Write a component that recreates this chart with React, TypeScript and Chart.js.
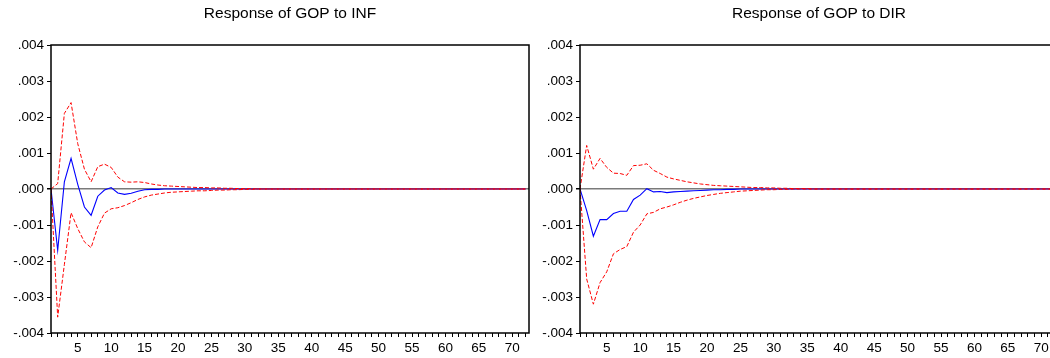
import React, { useEffect, useRef } from "react";
import { Chart, registerables } from "chart.js";

Chart.register(...registerables);

const PERIODS = [
  1, 2, 3, 4, 5, 6, 7, 8, 9, 10, 11, 12,
  13, 14, 15, 16, 17, 18, 19, 20, 21, 22, 23, 24,
  25, 26, 27, 28, 29, 30, 31, 32, 33, 34, 35, 36,
  37, 38, 39, 40, 41, 42, 43, 44, 45, 46, 47, 48,
  49, 50, 51, 52, 53, 54, 55, 56, 57, 58, 59, 60,
  61, 62, 63, 64, 65, 66, 67, 68, 69, 70, 71, 72,
];

const INF_RESP = [
  0, -0.0017, 0.0002, 0.00085, 0.00013, -0.0005, -0.00073, -0.0002, -0.00003, 0.00004, -0.00011, -0.00015,
  -0.00012, -0.00006, -0.00002, -0.00001, -0.00001, 0, 0, 0, 0, 0, 0, 0,
  0, 0, 0, 0, 0, 0, 0, 0, 0, 0, 0, 0,
  0, 0, 0, 0, 0, 0, 0, 0, 0, 0, 0, 0,
  0, 0, 0, 0, 0, 0, 0, 0, 0, 0, 0, 0,
  0, 0, 0, 0, 0, 0, 0, 0, 0, 0, 0, 0,
];
const INF_UP = [
  0, 0.00015, 0.0021, 0.0024, 0.00126, 0.00055, 0.0002, 0.00062, 0.00069, 0.0006, 0.00033, 0.0002,
  0.00019, 0.0002, 0.00018, 0.00014, 0.00011, 0.00009, 0.00008, 0.00007, 0.00006, 0.00005, 0.00004, 0.00004,
  0.00003, 0.00003, 0.00002, 0.00002, 0.00001, 0.00001, 0.00001, 0, 0, 0, 0, 0,
  0, 0, 0, 0, 0, 0, 0, 0, 0, 0, 0, 0,
  0, 0, 0, 0, 0, 0, 0, 0, 0, 0, 0, 0,
  0, 0, 0, 0, 0, 0, 0, 0, 0, 0, 0, 0,
];
const INF_LO = [
  0, -0.00356, -0.0021, -0.00066, -0.0011, -0.00147, -0.00163, -0.00105, -0.00067, -0.00055, -0.00052, -0.00046,
  -0.00038, -0.00029, -0.00022, -0.00017, -0.00014, -0.00011, -0.00009, -0.00008, -0.00007, -0.00006, -0.00005, -0.00005,
  -0.00004, -0.00003, -0.00003, -0.00002, -0.00002, -0.00001, -0.00001, 0, 0, 0, 0, 0,
  0, 0, 0, 0, 0, 0, 0, 0, 0, 0, 0, 0,
  0, 0, 0, 0, 0, 0, 0, 0, 0, 0, 0, 0,
  0, 0, 0, 0, 0, 0, 0, 0, 0, 0, 0, 0,
];

const DIR_RESP = [
  0, -0.0006, -0.00131, -0.00085, -0.00085, -0.00068, -0.00062, -0.00062, -0.00029, -0.00017, 0.00001, -0.00008,
  -0.00007, -0.0001, -0.00008, -0.00007, -0.00006, -0.00005, -0.00004, -0.00003, -0.00002, -0.00002, -0.00001, -0.00001,
  0, 0, 0, 0, 0, 0, 0, 0, 0, 0, 0, 0,
  0, 0, 0, 0, 0, 0, 0, 0, 0, 0, 0, 0,
  0, 0, 0, 0, 0, 0, 0, 0, 0, 0, 0, 0,
  0, 0, 0, 0, 0, 0, 0, 0, 0, 0, 0, 0,
];
const DIR_UP = [
  0, 0.00121, 0.00055, 0.00085, 0.0006, 0.00044, 0.00043, 0.00038, 0.00065, 0.00066, 0.0007, 0.00052,
  0.00043, 0.00033, 0.00028, 0.00024, 0.0002, 0.00017, 0.00014, 0.00012, 0.0001, 0.00009, 0.00008, 0.00007,
  0.00006, 0.00005, 0.00004, 0.00004, 0.00003, 0.00003, 0.00002, 0.00002, 0.00001, 0.00001, 0.00001, 0,
  0, 0, 0, 0, 0, 0, 0, 0, 0, 0, 0, 0,
  0, 0, 0, 0, 0, 0, 0, 0, 0, 0, 0, 0,
  0, 0, 0, 0, 0, 0, 0, 0, 0, 0, 0, 0,
];
const DIR_LO = [
  0, -0.0025, -0.0032, -0.0026, -0.0023, -0.0018, -0.00168, -0.0016, -0.0012, -0.001, -0.00069, -0.00065,
  -0.00055, -0.0005, -0.00044, -0.00037, -0.00031, -0.00026, -0.00022, -0.00018, -0.00015, -0.00012, -0.0001, -0.00008,
  -0.00006, -0.00005, -0.00004, -0.00003, -0.00002, -0.00002, -0.00001, -0.00001, 0, 0, 0, 0,
  0, 0, 0, 0, 0, 0, 0, 0, 0, 0, 0, 0,
  0, 0, 0, 0, 0, 0, 0, 0, 0, 0, 0, 0,
  0, 0, 0, 0, 0, 0, 0, 0, 0, 0, 0, 0,
];

const FONT = "'Liberation Sans', Arial, Helvetica, sans-serif";

function fmtY(v: number): string {
  const a = Math.abs(v);
  if (a < 1e-9) return ".000";
  return (v < 0 ? "-" : "") + a.toFixed(3).replace(/^0/, "");
}

function pts(vals: number[]) {
  return PERIODS.map((p, i) => ({ x: p, y: vals[i] }));
}

function makeConfig(title: string, resp: number[], up: number[], lo: number[], yAxisWidth: number, padRight: number): any {
  const frame = {
    id: "frame",
    afterDraw(chart: any) {
      const { ctx, chartArea } = chart;
      ctx.save();
      ctx.strokeStyle = "#000";
      ctx.lineWidth = 1.5;
      ctx.strokeRect(chartArea.left, chartArea.top, chartArea.right - chartArea.left, chartArea.bottom - chartArea.top);
      ctx.fillStyle = "#000";
      ctx.font = "15.5px " + FONT;
      ctx.textAlign = "center";
      ctx.textBaseline = "middle";
      ctx.fillText(title, (chartArea.left + chartArea.right) / 2, 14);
      ctx.restore();
    },
  };
  const dash = {
    borderColor: "#ff0000",
    borderWidth: 1,
    borderDash: [4, 2],
    pointRadius: 0,
    tension: 0,
    fill: false,
    order: 0,
  };
  return {
    type: "line",
    data: {
      datasets: [
        { label: "upper", data: pts(up), ...dash },
        { label: "lower", data: pts(lo), ...dash },
        {
          label: "response",
          data: pts(resp),
          borderColor: "#0000ff",
          borderWidth: 1.1,
          pointRadius: 0,
          tension: 0,
          fill: false,
          order: 1,
        },
      ],
    },
    options: {
      animation: false,
      responsive: false,
      devicePixelRatio: 1,
      layout: { padding: { top: 45, bottom: 1, left: 0, right: padRight } },
      plugins: { legend: { display: false }, tooltip: { enabled: false }, title: { display: false } },
      scales: {
        x: {
          type: "linear",
          min: 1,
          max: 72.5,
          afterBuildTicks: (s: any) => {
            s.ticks = PERIODS.map((v) => ({ value: v }));
          },
          afterFit: (s: any) => {
            s.height = 24;
          },
          border: { display: false },
          grid: { drawOnChartArea: false, drawTicks: true, tickLength: 4, color: "#000", lineWidth: 1 },
          ticks: {
            autoSkip: false,
            maxRotation: 0,
            minRotation: 0,
            padding: 3,
            color: "#000",
            font: { family: FONT, size: 13.5 },
            callback: (v: any) => (Number(v) % 5 === 0 ? String(v) : ""),
          },
        },
        y: {
          type: "linear",
          min: -0.004,
          max: 0.004,
          afterFit: (s: any) => {
            s.width = yAxisWidth;
          },
          border: { display: false },
          grid: {
            drawOnChartArea: true,
            drawTicks: true,
            tickLength: 4,
            color: (c: any) => (c.tick && Math.abs(c.tick.value) < 1e-9 ? "#7a7a7a" : "rgba(0,0,0,0)"),
            lineWidth: (c: any) => (c.tick && Math.abs(c.tick.value) < 1e-9 ? 1.5 : 1),
            tickColor: "#000",
          },
          ticks: {
            stepSize: 0.001,
            padding: 3,
            color: "#000",
            font: { family: FONT, size: 13.5 },
            callback: (v: any) => fmtY(Number(v)),
          },
        },
      },
    },
    plugins: [frame],
  };
}

function Panel({ left, width, title, resp, up, lo, yw, pr }: any) {
  const ref = useRef<HTMLCanvasElement | null>(null);
  useEffect(() => {
    if (!ref.current) return;
    const chart = new Chart(ref.current, makeConfig(title, resp, up, lo, yw, pr));
    return () => chart.destroy();
  }, []);
  return (
    <canvas
      ref={ref}
      width={width}
      height={358}
      style={{ position: "absolute", left, top: 0, width, height: 358 }}
    />
  );
}

export default function App() {
  return (
    <div
      style={{
        position: "fixed",
        left: 0,
        top: 0,
        width: 1050,
        height: 358,
        overflow: "hidden",
        background: "#fff",
      }}
    >
      <Panel left={0} width={540} title="Response of GOP to INF" resp={INF_RESP} up={INF_UP} lo={INF_LO} yw={51} pr={11} />
      <Panel left={530} width={540} title="Response of GOP to DIR" resp={DIR_RESP} up={DIR_UP} lo={DIR_LO} yw={50} pr={12} />
    </div>
  );
}
